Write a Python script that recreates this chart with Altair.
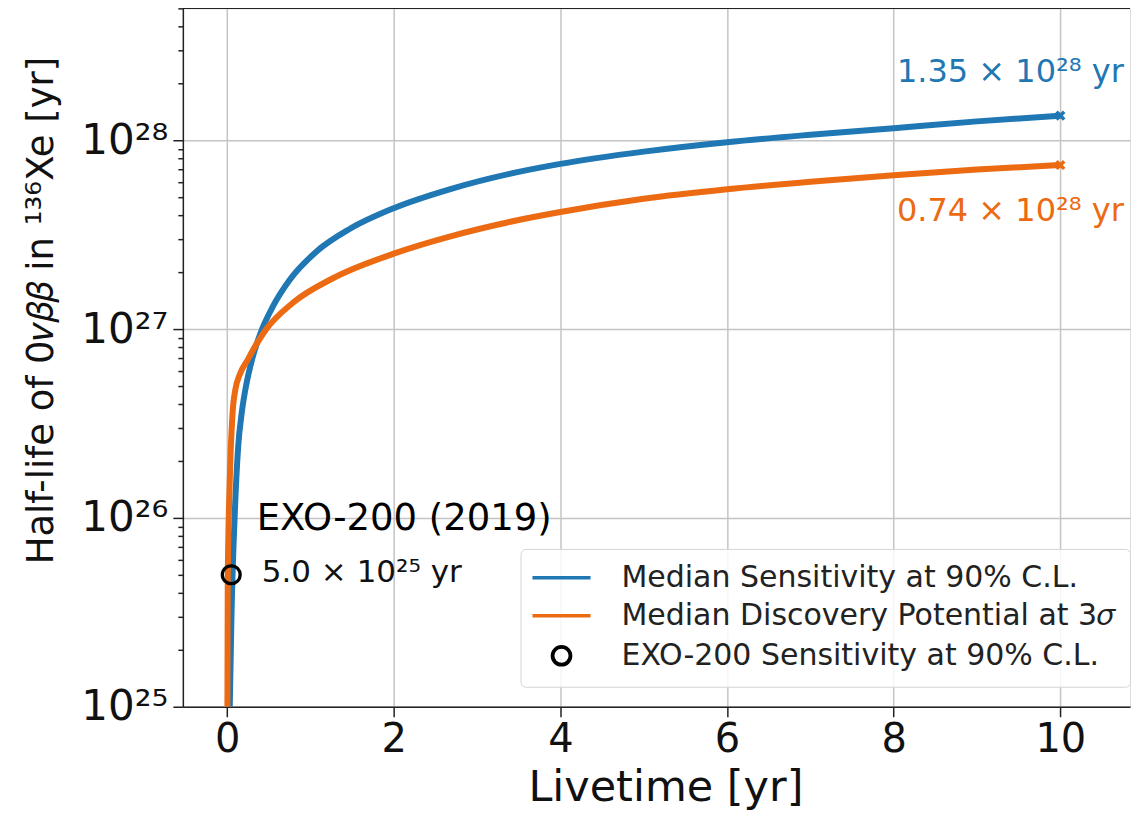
import altair as alt
import pandas as pd

# ---------------- data ----------------
series_names = [
    "Median Sensitivity at 90% C.L.",
    "Median Discovery Potential at 3𝜎",
    "EXO-200 Sensitivity at 90% C.L.",
]
series_colors = ["#1f77b4", "#ec6a12", "#000000"]

sens_x = [0.032, 0.053, 0.092, 0.132, 0.18, 0.232, 0.30, 0.42, 0.55, 0.75,
          1.07, 1.47, 2.0, 2.67, 3.47, 4.0, 5.0, 6.0, 7.0, 8.0, 9.0, 10.0]
sens_t = [1.0e25, 3.1e25, 1.05e26, 2.35e26, 3.72e26, 5.13e26, 6.92e26,
          1.0e27, 1.32e27, 1.82e27, 2.57e27, 3.39e27, 4.37e27, 5.5e27,
          6.76e27, 7.5e27, 8.71e27, 9.77e27, 1.07e28, 1.16e28, 1.26e28,
          1.35e28]

disc_x = [0.004, 0.008, 0.032, 0.065, 0.10, 0.152, 0.25, 0.35, 0.47, 0.79,
          1.27, 2.0, 2.67, 3.47, 4.0, 5.0, 6.0, 7.0, 8.0, 9.0, 10.0]
disc_t = [1.0e25, 4.7e25, 1.58e26, 3.55e26, 4.8e26, 5.75e26, 6.92e26,
          8.3e26, 1.0e27, 1.38e27, 1.86e27, 2.51e27, 3.09e27, 3.76e27,
          4.17e27, 4.9e27, 5.5e27, 6.03e27, 6.53e27, 7.0e27, 7.4e27]

exo_x = [0.05]
exo_t = [5.0e25]

end_x = [10.0, 10.0]
end_t = [1.35e28, 0.74e28]

note_text = ["1.35 × 10²⁸ yr", "0.74 × 10²⁸ yr"]
note_x = [8.04, 8.04]
note_t = [2.04e28, 3.76e27]

exo_title = ["EXO-200 (2019)"]
exo_title_x = [0.356]
exo_title_t = [8.65e25]
exo_value = ["5.0 × 10²⁵ yr"]
exo_value_x = [0.416]
exo_value_t = [4.6e25]

x_ticks = [0, 2, 4, 6, 8, 10]
y_ticks = [1e25, 2e25, 3e25, 4e25, 5e25, 6e25, 7e25, 8e25, 9e25,
           1e26, 2e26, 3e26, 4e26, 5e26, 6e26, 7e26, 8e26, 9e26,
           1e27, 2e27, 3e27, 4e27, 5e27, 6e27, 7e27, 8e27, 9e27,
           1e28, 2e28, 3e28, 4e28, 5e28]
y_exps = [25, 26, 27, 28]
y_tick_labels = ["10²⁵", "10²⁶", "10²⁷", "10²⁸"]

x_domain = [-0.531, 10.836]
y_domain = [1e25, 5e28]

# ---------------- tables ----------------
lines_df = pd.DataFrame({
    "x": sens_x + disc_x,
    "t": sens_t + disc_t,
    "series": [series_names[0]] * len(sens_x) + [series_names[1]] * len(disc_x),
})
exo_df = pd.DataFrame({"x": exo_x, "t": exo_t, "series": [series_names[2]]})
end_df = pd.DataFrame({"x": end_x, "t": end_t, "series": series_names[:2]})
note_df = pd.DataFrame({"x": note_x, "t": note_t, "label": note_text,
                        "series": series_names[:2]})
exo_title_df = pd.DataFrame({"x": exo_title_x, "t": exo_title_t, "label": exo_title})
exo_value_df = pd.DataFrame({"x": exo_value_x, "t": exo_value_t, "label": exo_value})
top_df = pd.DataFrame({"t": [y_domain[1]]})

FONT = "DejaVu Sans"

# ---------------- scales / axes ----------------
log10 = "(log(datum.value)/LN10)"
decade_test = f"abs({log10} - round({log10})) < 0.001"
sup_expr = "''"
for e, lab in zip(reversed(y_exps), reversed(y_tick_labels)):
    sup_expr = f"(round({log10}) == {e} ? '{lab}' : {sup_expr})"
label_expr = f"{decade_test} ? {sup_expr} : ''"

x_scale = alt.Scale(domain=x_domain, nice=False, zero=False)
y_scale = alt.Scale(type="log", domain=y_domain, nice=False)

x_axis = alt.Axis(
    values=x_ticks, format="d", title="Livetime [yr]", grid=True,
    gridColor="#c4c4c4", gridWidth=1.5,
    labelFontSize=40, labelFont=FONT, labelColor="#111", labelPadding=3,
    labelFlush=False, labelOverlap=False,
    tickSize=10, tickWidth=1.5, tickColor="#222",
    domainColor="#222", domainWidth=1.5,
    titleFontSize=43, titleFont=FONT, titleFontWeight="normal", titleColor="#111",
    titleX=483, titleY=94, titleBaseline="alphabetic",
)
y_axis = alt.Axis(
    values=y_ticks, labelExpr=label_expr, title="Half-life of 0𝜈𝛽𝛽 in ¹³⁶Xe [yr]",
    grid=True, gridColor="#c4c4c4", gridWidth=1.5,
    gridOpacity={"condition": {"test": decade_test, "value": 1}, "value": 0},
    tickSize={"condition": {"test": decade_test, "value": 10}, "value": 5},
    tickWidth=1.5, tickColor="#222",
    domainColor="#222", domainWidth=1.5,
    labelFontSize=42, labelFont=FONT, labelColor="#111", labelPadding=5,
    labelFlush=False, labelOverlap=False, labelBound=False,
    titleFontSize=37, titleFont=FONT, titleFontWeight="normal", titleColor="#111",
    titleX=-130, titleY=302, titleBaseline="alphabetic", titleAngle=-90,
)

legend = alt.Legend(
    title=None, orient="none", legendX=338, legendY=541,
    labelFontSize=30, labelFont=FONT, labelColor="#222", labelOffset=45,
    labelLimit=800, symbolSize=330, symbolOffset=12,
    symbolStrokeWidth=3.5, rowPadding=8, padding=14, cornerRadius=5,
    strokeColor="#d4d4d4", fillColor="rgba(255,255,255,0.85)",
    symbolFillColor="transparent",
)
# open ring (outer circle clockwise, inner counter-clockwise) so it stays hollow
RING = ("M1,0A1,1,0,1,1,-1,0A1,1,0,1,1,1,0Z"
        "M0.97,0A0.97,0.97,0,1,0,-0.97,0A0.97,0.97,0,1,0,0.97,0Z")
stroke_scale = alt.Scale(domain=series_names, range=series_colors)
shape_scale = alt.Scale(domain=series_names,
                        range=["M-3.2,0H3.2", "M-3.2,0H3.2", RING])

X = alt.X("x:Q", scale=x_scale, axis=x_axis)
Y = alt.Y("t:Q", scale=y_scale, axis=y_axis)

lines = alt.Chart(lines_df).mark_line(
    strokeWidth=6, interpolate="monotone", clip=True
).encode(
    x=X, y=Y,
    stroke=alt.Stroke("series:N", scale=stroke_scale, legend=legend),
    order=alt.Order("x:Q"),
)

exo = alt.Chart(exo_df).mark_point(
    filled=False, strokeWidth=3, opacity=1, size=330
).encode(
    x="x:Q", y="t:Q",
    stroke=alt.Stroke("series:N", scale=stroke_scale, legend=legend),
    shape=alt.Shape("series:N", scale=shape_scale, legend=legend),
)

ends = alt.Chart(end_df).mark_point(
    shape="M-1,-1L1,1M1,-1L-1,1", size=60, strokeWidth=3.5, filled=False, opacity=1
).encode(
    x="x:Q", y="t:Q",
    color=alt.Color("series:N", scale=alt.Scale(domain=series_names, range=series_colors), legend=None),
)

notes = alt.Chart(note_df).mark_text(
    align="left", baseline="alphabetic", fontSize=32, font=FONT
).encode(
    x="x:Q", y="t:Q", text="label:N",
    fill=alt.Fill("series:N", scale=alt.Scale(domain=series_names, range=series_colors), legend=None),
)

exo_title_layer = alt.Chart(exo_title_df).mark_text(
    align="left", baseline="alphabetic", fontSize=37, font=FONT, color="#000"
).encode(x="x:Q", y="t:Q", text="label:N")

exo_value_layer = alt.Chart(exo_value_df).mark_text(
    align="left", baseline="alphabetic", fontSize=31, font=FONT, color="#111"
).encode(x="x:Q", y="t:Q", text="label:N")

top_spine = alt.Chart(top_df).mark_rule(color="#222", strokeWidth=1.5).encode(y="t:Q")

chart = alt.layer(
    lines, exo, ends, notes, exo_title_layer, exo_value_layer, top_spine
).properties(
    width=948, height=699,
    padding={"left": 175, "top": 0, "right": 2, "bottom": 106},
    autosize=alt.AutoSizeParams(type="none"),
).configure_view(stroke=None).configure(background="white")

chart.save("out.html", embed_options={"renderer": "svg", "actions": False})
